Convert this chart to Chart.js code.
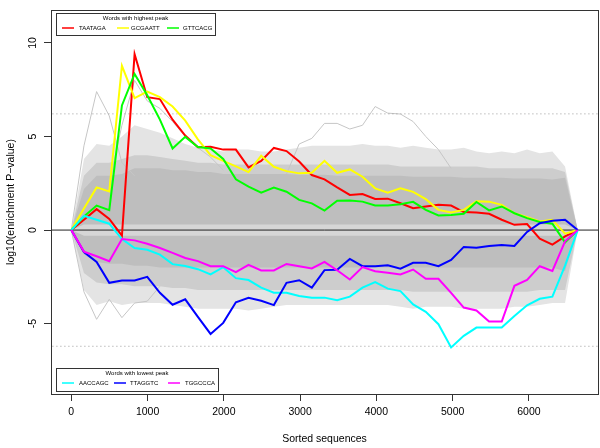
<!DOCTYPE html>
<html>
<head>
<meta charset="utf-8">
<script src="https://cdn.jsdelivr.net/npm/chart.js@4.4.1/dist/chart.umd.min.js"></script>
<style>
  body { margin: 0; background: #fff; }
  #wrap { width: 600px; height: 448px; }
</style>
</head>
<body>
<div id="wrap"><canvas id="myChart" width="600" height="448"></canvas></div>
<script>
// positions along the sorted sequences (x)
let seqPos = [0, 166, 332, 498, 664, 830, 996, 1162, 1328, 1494, 1660, 1826, 1992, 2158, 2324, 2490, 2656, 2822, 2988, 3154, 3320, 3486, 3652, 3818, 3984, 4150, 4316, 4482, 4648, 4814, 4980, 5146, 5312, 5478, 5644, 5810, 5976, 6142, 6308, 6474, 6640];

// words with highest peak
let taataga = [0, 0.55, 1.12, 0.6, -0.3, 9.4, 7.1, 7.0, 5.9, 5.05, 4.42, 4.45, 4.3, 4.3, 3.35, 3.7, 4.39, 4.22, 3.66, 2.94, 2.71, 2.28, 1.88, 1.93, 1.66, 1.68, 1.43, 1.17, 1.26, 1.35, 1.31, 0.96, 0.94, 0.87, 0.55, 0.28, 0.32, -0.46, -0.78, -0.34, 0];
let gcgaatt = [0, 1.15, 2.28, 2.07, 8.78, 7.05, 7.4, 7.1, 6.6, 5.85, 4.85, 4.0, 3.7, 3.4, 3.1, 3.97, 3.38, 3.15, 3.03, 3.06, 3.7, 3.06, 3.24, 2.85, 2.23, 2.0, 2.23, 2.04, 1.65, 1.08, 0.94, 1.08, 1.54, 1.52, 1.35, 0.9, 0.69, 0.46, 0.55, -0.19, 0];
let gttcacg = [0, 0.73, 1.31, 1.06, 6.66, 8.34, 7.2, 5.9, 4.36, 4.98, 4.44, 4.36, 3.8, 2.71, 2.32, 2.0, 2.27, 2.05, 1.61, 1.43, 1.04, 1.57, 1.58, 1.52, 1.31, 1.31, 1.38, 1.51, 1.08, 0.78, 0.81, 0.87, 1.5, 1.05, 1.26, 0.9, 0.64, 0.43, 0.34, -0.66, 0];

// words with lowest peak
let aaccagc = [0, 0.76, 0.55, 0.34, -0.48, -0.96, -1.05, -1.31, -1.82, -1.92, -2.09, -2.37, -1.98, -2.57, -2.67, -3.08, -3.35, -3.35, -3.52, -3.61, -3.61, -3.75, -3.56, -3.08, -2.78, -3.13, -3.26, -3.97, -4.37, -5.03, -6.27, -5.65, -5.21, -5.21, -5.21, -4.59, -4.02, -3.67, -3.56, -1.9, 0];
let ttaggtc = [0, -1.17, -1.7, -2.82, -2.69, -2.69, -2.5, -3.35, -3.99, -3.7, -4.64, -5.55, -4.96, -3.86, -3.62, -3.78, -4.01, -2.82, -2.68, -3.08, -2.14, -2.12, -1.54, -1.93, -1.93, -1.88, -2.06, -1.75, -1.75, -1.93, -1.6, -0.9, -0.95, -0.85, -0.8, -0.85, -0.1, 0.37, 0.5, 0.55, 0];
let tggccca = [0, -1.15, -1.4, -1.66, -0.48, -0.55, -0.73, -0.96, -1.22, -1.49, -1.66, -1.93, -1.93, -2.25, -1.86, -2.16, -2.16, -1.81, -1.93, -2.05, -1.7, -2.15, -2.64, -1.98, -2.2, -2.28, -2.37, -2.11, -2.6, -2.6, -3.36, -4.14, -4.3, -4.89, -4.89, -2.98, -2.66, -1.93, -2.18, -0.6, 0];

// grey mass of all other words (envelopes)
let sparseHi = [0, 3.8, 4.6, 4.5, 5.0, 5.6, 5.4, 5.2, 4.9, 4.6, 4.4, 4.3, 4.2, 4.3, 4.3, 4.2, 4.2, 4.3, 4.4, 4.5, 4.5, 4.5, 4.5, 4.6, 4.5, 4.5, 4.4, 4.5, 4.4, 4.3, 4.3, 4.4, 4.2, 4.1, 4.2, 4.1, 4.3, 4.1, 4.2, 3.4, 0];
let semiHi = [0, 2.9, 3.6, 3.6, 3.8, 4.0, 4.0, 3.9, 3.8, 3.7, 3.6, 3.6, 3.5, 3.5, 3.5, 3.5, 3.5, 3.5, 3.5, 3.5, 3.5, 3.5, 3.5, 3.5, 3.5, 3.5, 3.4, 3.4, 3.4, 3.4, 3.4, 3.4, 3.4, 3.3, 3.3, 3.3, 3.3, 3.3, 3.3, 3.1, 0];
let denseHi = [0, 2.2, 2.9, 2.9, 3.0, 3.3, 3.3, 3.3, 3.2, 3.2, 3.1, 3.1, 3.0, 3.0, 3.0, 3.0, 3.0, 3.0, 2.95, 2.95, 2.95, 2.9, 2.9, 2.9, 2.9, 2.9, 2.9, 2.85, 2.85, 2.85, 2.85, 2.8, 2.8, 2.8, 2.8, 2.75, 2.75, 2.75, 2.7, 2.8, 0];
let denseLo = [0, -1.3, -1.7, -1.8, -1.8, -1.9, -1.9, -2.0, -2.0, -2.0, -2.0, -2.0, -2.0, -2.0, -2.0, -2.0, -2.0, -2.0, -2.0, -2.0, -2.0, -2.0, -2.0, -2.0, -2.0, -2.0, -2.0, -2.0, -2.0, -2.0, -2.0, -2.0, -2.0, -2.0, -2.0, -2.0, -2.0, -2.0, -2.0, -2.2, 0];
let semiLo = [0, -2.3, -2.8, -2.9, -2.9, -3.0, -3.0, -3.0, -3.1, -3.1, -3.2, -3.2, -3.2, -3.2, -3.2, -3.2, -3.2, -3.2, -3.2, -3.2, -3.2, -3.2, -3.2, -3.2, -3.2, -3.2, -3.2, -3.3, -3.3, -3.3, -3.3, -3.3, -3.3, -3.3, -3.3, -3.3, -3.3, -3.2, -3.2, -3.2, 0];
let sparseLo = [0, -3.2, -4.0, -3.8, -4.0, -3.9, -3.9, -3.9, -4.0, -4.1, -4.2, -4.2, -4.2, -4.2, -4.3, -4.2, -4.1, -4.0, -4.0, -4.0, -4.0, -4.0, -4.0, -4.0, -4.0, -4.0, -4.1, -4.2, -4.1, -4.1, -4.1, -4.2, -4.2, -4.2, -4.2, -4.1, -4.1, -4.0, -3.9, -3.9, 0];
let zeroHi = [0, 0.3, 0.3, 0.3, 0.3, 0.3, 0.3, 0.3, 0.3, 0.3, 0.3, 0.3, 0.3, 0.3, 0.3, 0.3, 0.3, 0.3, 0.3, 0.3, 0.3, 0.3, 0.3, 0.3, 0.3, 0.3, 0.3, 0.3, 0.3, 0.3, 0.3, 0.3, 0.3, 0.3, 0.3, 0.3, 0.3, 0.3, 0.3, 0.3, 0];
let zeroLo = [0, -0.3, -0.3, -0.3, -0.3, -0.3, -0.3, -0.3, -0.3, -0.3, -0.3, -0.3, -0.3, -0.3, -0.3, -0.3, -0.3, -0.3, -0.3, -0.3, -0.3, -0.3, -0.3, -0.3, -0.3, -0.3, -0.3, -0.3, -0.3, -0.3, -0.3, -0.3, -0.3, -0.3, -0.3, -0.3, -0.3, -0.3, -0.3, -0.3, 0];

// a few grey outliers that stick out of the mass
let greyA = [0, 4.5, 7.4, 6.1, 3.6, 2.9];
let greyB = [null, null, null, 2.5, 5.6, 8.0, 6.9, 6.5, 5.8, 5.0, 4.4, 3.9, 3.2];
let greyC = [null, null, null, null, null, null, null, null, null, null, null, null, null, null, null, null, null, 3.0, 4.6, 4.9, 5.7, 5.7, 5.4, 5.6, 6.6, 6.25, 6.2, 5.8, 5.0, 4.3, 3.3];
let greyD = [0, -3.3, -4.77, -3.7, -4.68, -3.9, -3.8, -3.0];

let xTicks = [0, 1000, 2000, 3000, 4000, 5000, 6000];
let yTicks = [-5, 0, 5, 10];
let threshold = 6.21;

let highWords = ["TAATAGA", "GCGAATT", "GTTCACG"];
let lowWords = ["AACCAGC", "TTAGGTC", "TGGCCCA"];

function pts(values) {
  let out = [];
  values.forEach((v, i) => {
    out.push({ x: seqPos[i], y: v });
  });
  return out;
}

function word(values, color) {
  return { data: pts(values), borderColor: color, borderWidth: 2, pointRadius: 0, fill: false, tension: 0 };
}
function greyLine(values) {
  return { data: pts(values), borderColor: "#c6c6c6", borderWidth: 1, pointRadius: 0, fill: false, spanGaps: false };
}
function band(values, target, color) {
  return { data: pts(values), borderWidth: 0, borderColor: "rgba(0,0,0,0)", backgroundColor: color, pointRadius: 0, fill: target };
}
function hline(y, color, dash) {
  return { data: [{ x: -300, y: y }, { x: 7000, y: y }], borderColor: color, borderWidth: 1, borderDash: dash, pointRadius: 0, fill: false };
}

// order in array = drawn on top first
let datasets = [
  word(tggccca, "#ff00ff"),   // 0
  word(ttaggtc, "#0000ff"),   // 1
  word(aaccagc, "#00ffff"),   // 2
  word(gttcacg, "#00ff00"),   // 3
  word(gcgaatt, "#ffff00"),   // 4
  word(taataga, "#ff0000"),   // 5
  hline(0, "#222222", []),    // 6
  hline(threshold, "#9a9a9a", [1, 3]),  // 7
  hline(-threshold, "#9a9a9a", [1, 3]), // 8
  greyLine(greyA),            // 9
  greyLine(greyB),            // 10
  greyLine(greyC),            // 11
  greyLine(greyD),            // 12
  band(zeroHi, 14, "#d6d6d6"),  // 13
  band(zeroLo, false, "#d6d6d6"), // 14
  band(denseHi, 16, "#bebebe"), // 15
  band(denseLo, false, "#bebebe"), // 16
  band(semiHi, 18, "#cdcdcd"),  // 17
  band(semiLo, false, "#cdcdcd"), // 18
  band(sparseHi, 20, "#e4e4e4"), // 19
  band(sparseLo, false, "#e4e4e4") // 20
];

function drawLegend(ctx, x, y, w, h, title, names, colors, lineX, textX) {
  ctx.save();
  ctx.fillStyle = "#fff";
  ctx.fillRect(x, y, w, h);
  ctx.strokeStyle = "#333";
  ctx.lineWidth = 1;
  ctx.strokeRect(x + 0.5, y + 0.5, w, h);
  ctx.fillStyle = "#000";
  ctx.font = '6px "Liberation Sans", Arial, sans-serif';
  ctx.textBaseline = "middle";
  ctx.textAlign = "center";
  ctx.fillText(title, x + w / 2, y + 5.5);
  ctx.textAlign = "left";
  let ly = y + 15;
  names.forEach((n, i) => {
    ctx.strokeStyle = colors[i];
    ctx.lineWidth = 1.5;
    ctx.beginPath();
    ctx.moveTo(lineX[i], ly);
    ctx.lineTo(lineX[i] + 12, ly);
    ctx.stroke();
    ctx.fillText(n, textX[i], ly);
  });
  ctx.restore();
}

let rDecor = {
  id: "rDecor",
  afterDraw(chart) {
    let ctx = chart.ctx;
    let a = chart.chartArea;
    let ys = chart.scales.y;
    ctx.save();
    ctx.strokeStyle = "#333";
    ctx.lineWidth = 1;
    ctx.strokeRect(Math.round(a.left) + 0.5, Math.round(a.top) + 0.5, Math.round(a.right - a.left), Math.round(a.bottom - a.top));
    ctx.fillStyle = "#000";
    ctx.font = '10.5px "Liberation Sans", Arial, sans-serif';
    ctx.textAlign = "center";
    ctx.textBaseline = "middle";
    yTicks.forEach((v) => {
      let py = ys.getPixelForValue(v);
      ctx.save();
      ctx.translate(33, py);
      ctx.rotate(-Math.PI / 2);
      ctx.fillText(String(v), 0, 0);
      ctx.restore();
    });
    ctx.save();
    ctx.translate(11, (a.top + a.bottom) / 2);
    ctx.rotate(-Math.PI / 2);
    ctx.fillText("log10(enrichment P\u2212value)", 0, 0);
    ctx.restore();
    ctx.fillText("Sorted sequences", (a.left + a.right) / 2, 439);
    ctx.restore();
    drawLegend(ctx, 56, 13, 159, 22, "Words with highest peak", highWords, ["#ff0000", "#ffff00", "#00ff00"], [62, 117, 167], [79, 131, 183]);
    drawLegend(ctx, 56, 368, 162, 23, "Words with lowest peak", lowWords, ["#00ffff", "#0000ff", "#ff00ff"], [62, 114, 168], [79, 130, 185]);
  }
};

let ctx = document.getElementById("myChart");
let myChart = new Chart(ctx, {
  type: "line",
  data: { datasets: datasets },
  plugins: [rDecor],
  options: {
    responsive: false,
    animation: false,
    devicePixelRatio: 1,
    layout: { padding: { left: 0, top: 10, right: 2, bottom: 0 } },
    plugins: {
      legend: { display: false },
      tooltip: { enabled: false }
    },
    elements: { line: { tension: 0 } },
    scales: {
      x: {
        type: "linear",
        min: -266,
        max: 6906,
        afterFit: (s) => { s.height = 54; },
        afterBuildTicks: (s) => { s.ticks = xTicks.map((v) => ({ value: v })); },
        border: { display: false },
        grid: { drawOnChartArea: false, drawTicks: true, tickLength: 7, color: "#333" },
        ticks: {
          includeBounds: false,
          padding: 5,
          maxRotation: 0,
          color: "#000",
          callback: (v) => String(v),
          font: { family: '"Liberation Sans", Arial, sans-serif', size: 10.5 }
        }
      },
      y: {
        type: "linear",
        min: -8.76,
        max: 11.76,
        afterFit: (s) => { s.width = 51; },
        afterBuildTicks: (s) => { s.ticks = yTicks.map((v) => ({ value: v })); },
        border: { display: false },
        grid: { drawOnChartArea: false, drawTicks: true, tickLength: 7, color: "#333" },
        ticks: { display: false }
      }
    }
  }
});
</script>
</body>
</html>
